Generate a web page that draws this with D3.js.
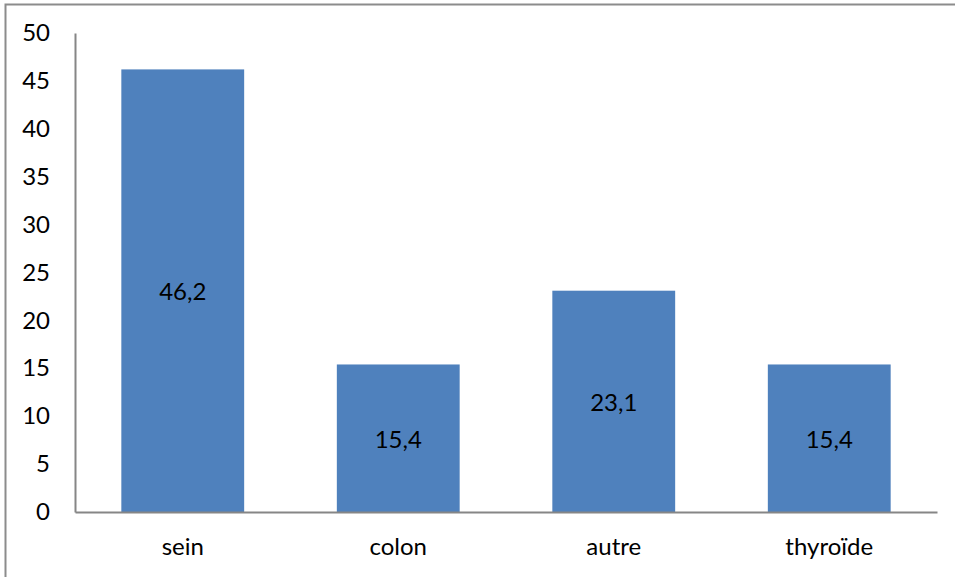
<!DOCTYPE html>
<html>
<head>
<meta charset="utf-8">
<script src="https://cdn.jsdelivr.net/npm/d3@7"></script>
<style>
  html, body { margin: 0; padding: 0; background: #fff; }
  svg { display: block; }
  text { font-family: Lato, "Open Sans", sans-serif; fill: #000; }
</style>
</head>
<body>
<script>
// Répartition des cancers (%)
const categories = ["sein", "colon", "autre", "thyroïde"];
const values = [46.2, 15.4, 23.1, 15.4];
const valueLabels = ["46,2", "15,4", "23,1", "15,4"];
const yTicks = [0, 5, 10, 15, 20, 25, 30, 35, 40, 45, 50];

const width = 955, height = 577;
const margin = { top: 33, right: 18, bottom: 65, left: 75 };
const fontSize = "24px";

const svg = d3.select("body").append("svg")
  .attr("width", width)
  .attr("height", height);

// outer frame
svg.append("rect")
  .attr("x", 5.5).attr("y", 4.5)
  .attr("width", width + 10).attr("height", height + 10)
  .attr("fill", "none")
  .attr("stroke", "#8c8c8c")
  .attr("stroke-width", 2);

const x = d3.scaleBand()
  .domain(categories)
  .range([margin.left, width - margin.right])
  .paddingInner(0.43)
  .paddingOuter(0.215);

const y = d3.scaleLinear()
  .domain([0, 50])
  .range([height - margin.bottom, margin.top]);

// bars
svg.append("g").selectAll("rect")
  .data(values)
  .join("rect")
  .attr("x", (d, i) => x(categories[i]))
  .attr("y", d => y(d))
  .attr("width", x.bandwidth())
  .attr("height", d => y(0) - y(d))
  .attr("fill", "#4f81bd");

// value labels in the middle of each bar
svg.append("g").selectAll("text")
  .data(values)
  .join("text")
  .attr("x", (d, i) => x(categories[i]) + x.bandwidth() / 2)
  .attr("y", d => (y(d) + y(0)) / 2)
  .attr("dy", "0.4em")
  .attr("text-anchor", "middle")
  .style("font-size", fontSize)
  .text((d, i) => valueLabels[i]);

// y axis
const yAxis = d3.axisLeft(y).tickValues(yTicks).tickSize(0).tickPadding(25)
  .tickFormat(d3.format("d"));
const gy = svg.append("g")
  .attr("transform", `translate(${margin.left},0)`)
  .call(yAxis);
gy.select(".domain").attr("stroke", "#868686").attr("stroke-width", 2);
gy.selectAll("text").style("font-size", fontSize).attr("fill", "#000");

// x axis
const xAxis = d3.axisBottom(x).tickSize(0).tickPadding(26);
const gx = svg.append("g")
  .attr("transform", `translate(0,${y(0)})`)
  .call(xAxis);
gx.select(".domain").attr("stroke", "#868686").attr("stroke-width", 2);
gx.selectAll("text").style("font-size", fontSize).attr("fill", "#000");
</script>
</body>
</html>
